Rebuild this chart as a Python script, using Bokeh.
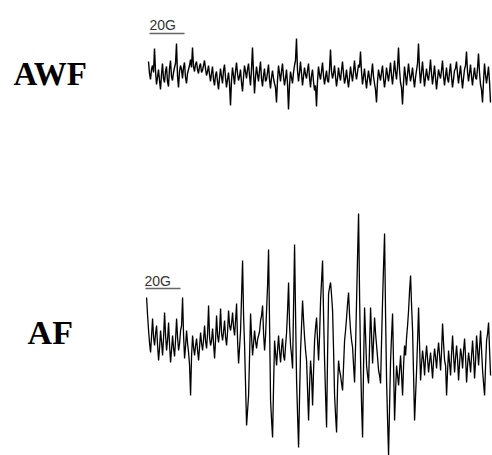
from bokeh.plotting import figure
from bokeh.models import Range1d
from bokeh.core.properties import value
from bokeh.embed import file_html
from bokeh.resources import INLINE
import numpy as np

# ---- data (EPR-like traces, intensity in arbitrary units) ----
awf_intensity = [
    14, 2, -4, 6, 10, 3, 27, 5, -9, -2, 6, -5, -14, 1, 12, -3, -7, 4, 9, -6,
    -11, 7, 15, -1, -5, 3, 8, 12, 32, 0, -12, 4, 10, 6, -3, 8, 13, -2, -8, 2,
    6, 10, 16, 8, 28, 9, 4, 11, 14, 6, 2, 9, 12, 3, 5, 10, 15, 7, 0, 4,
    10, 1, -6, 2, 9, -4, -10, 0, 4, -6, -14, -3, 7, -1, -8, 5, 11, -2, -12, -4,
    3, -8, -30, -5, 8, 0, -9, 4, 13, 2, -5, -1, 6, -7, -16, -2, 10, 4, -3, 6,
    12, 0, -10, 6, 28, 3, -18, -2, 9, 1, -6, 5, 14, -3, -11, 0, 7, -6, -4, 3,
    11, -4, -13, -2, 5, -3, -8, -12, -27, -5, 10, 2, -6, 4, 12, -1, -10, -3, 6, -8,
    -34, -10, 4, -2, -8, 3, 10, 15, 37, 5, -6, 3, 14, 2, -10, -1, 8, 1, -3, 5,
    12, -2, -12, 0, 6, -6, -15, -10, -31, -6, 9, 1, -4, 4, 13, 0, -9, -2, 5, -5,
    -7, 6, 26, 4, -3, 2, 10, -1, -11, -3, 8, 0, -5, 5, 14, 2, -8, -3, 6, -4,
    -12, -2, 9, 1, -6, 4, 15, 3, -4, 3, 11, 8, 24, 4, -9, -1, 7, -4, -13, -3,
    5, -3, -10, 2, 12, -1, -8, -14, -27, -6, 6, 0, -5, 3, 10, -2, -12, -4, 8, 1,
    -6, 3, 13, 0, -9, 2, 15, 4, -4, 8, 28, 6, -7, -12, -29, -8, 9, 0, -10, 1,
    12, 2, -6, 0, 8, -3, -12, -2, 5, 12, 32, 6, -8, 3, 14, 1, -11, -2, 7, -1,
    -5, 4, 16, 2, -9, 0, 10, -2, -14, -4, 6, 1, -3, 5, 15, 0, -10, -1, 8, -3,
    -7, 3, 12, -1, -12, -4, 5, 7, 14, 2, -8, 1, 10, -2, -13, -3, 6, 10, 24, 4,
    -6, 2, 11, -1, -10, 0, 8, -2, -4, 7, 22, 3, -9, -14, -27, -6, 12, 1, -8, 0,
    9, -6, -27,
]

af_intensity = [
    48, 30, 15, 2, -7, 10, 27, 8, 0, 12, 20, 0, -15, -2, 15, 3, -10, 8, 33, 10,
    -5, 6, 23, 0, -17, -4, 10, -3, -11, 6, 27, 8, -5, 2, 15, 20, 48, 10, -13, 0,
    15, 2, -7, -20, -50, -10, 10, -2, -10, 0, 7, -5, -15, -1, 13, 2, -5, 6, 20, 4,
    -3, 12, 40, 8, 0, 5, 17, 2, -13, 6, 30, 10, 3, 15, 37, 12, 5, 14, 25, 8,
    0, 14, 35, 20, 15, 22, 33, 18, 10, 25, 42, 5, -18, -2, 15, 50, 85, 30, 0, -40,
    -80, -65, -50, -10, 32, 8, -10, 2, 15, 4, -3, 6, 10, 14, 25, 30, 40, 12, -5, 10,
    35, 60, 96, 20, -55, -75, -92, -40, 5, -8, -20, -4, 10, -6, -17, -2, 7, -10, -15, 0,
    13, 35, 63, 20, 0, -10, -23, 40, 101, 30, -35, -70, -102, -50, -5, 20, 45, 25, 8, -5,
    -15, -45, -75, -40, -15, -30, -60, -25, 5, 18, 28, 5, -15, 10, 45, 65, 85, 30, -15, -50,
    -82, -10, 52, 58, 63, 50, 35, -5, -50, -70, -87, -40, -15, -25, -30, -38, -45, -20, 5, 15,
    28, 42, 53, 30, 15, 5, -2, -20, -37, 0, 45, 90, 132, 50, -15, -60, -92, -20, 38, 10,
    -20, -30, -38, 0, 38, 10, -18, 5, 28, 12, 0, -12, -25, -30, -38, 5, 45, 80, 112, 30,
    -35, -75, -110, -60, -15, 10, 32, -20, -75, -45, -20, -30, -40, -25, -10, -30, -50, -20, 0, -10,
    8, 20, 35, 55, 70, 40, 15, -30, -75, -50, -25, 5, 38, 0, -35, -18, -5, -15, -30, -12,
    0, -14, -27, -16, -7, -20, -33, -15, -3, -12, -23, -8, 3, -10, -25, -5, 22, 2, -15, -20,
    -50, -25, -5, -18, -30, -8, 10, -10, -27, -12, 0, -14, -35, -18, -3, -10, -23, -5, 7, -12,
    -37, -20, -7, -16, -27, -10, 5, -12, -33, -15, 10, -4, -20, -2, 15, -5, -25, -38, -50, -20,
    5, 12, 23, -5, -30,
]

labels = ["AWF", "AF"]
scale_bar_gauss = 20
scale_bar_label = "20G"

# ---- field sweep (Gauss) ----
STEP_G = 1 / 1.75
awf_field = 80.0 + STEP_G * np.arange(len(awf_intensity))
af_field = 78.9 + STEP_G * np.arange(len(af_intensity))

AWF_OFFSET = 0
AF_OFFSET = -270

p = figure(width=492, height=455, output_backend="svg", toolbar_location=None,
           x_range=Range1d(-8 / 1.75, 484 / 1.75), y_range=Range1d(-380, 75),
           min_border=0)
p.axis.visible = False
p.grid.visible = False
p.outline_line_color = None
p.background_fill_color = "white"

p.line(awf_field, np.array(awf_intensity) + AWF_OFFSET, line_color="black", line_width=1.4)
p.line(af_field, np.array(af_intensity) + AF_OFFSET, line_color="black", line_width=1.3)

# sample labels
p.text(x=[2.9], y=[2], text=[labels[0]], text_font=value("Liberation Serif"),
       text_font_style="bold", text_font_size="33px", text_baseline="alphabetic",
       text_color="black")
p.text(x=[10.9], y=[-257], text=[labels[1]], text_font=value("Liberation Serif"),
       text_font_style="bold", text_font_size="34px", text_baseline="alphabetic",
       text_color="black")

# scale bars
p.segment(x0=[80.6], y0=[42], x1=[80.6 + scale_bar_gauss], y1=[42],
          line_color="#666666", line_width=1.5)
p.text(x=[80.6], y=[51], text=[scale_bar_label], text_font=value("Liberation Sans"),
       text_font_size="14px", text_baseline="alphabetic", text_color="#333333")
p.segment(x0=[78.3], y0=[-213], x1=[78.3 + scale_bar_gauss], y1=[-213],
          line_color="#666666", line_width=1.5)
p.text(x=[77.7], y=[-205], text=[scale_bar_label], text_font=value("Liberation Sans"),
       text_font_size="14px", text_baseline="alphabetic", text_color="#333333")

open("out.html", "w").write(file_html(p, INLINE))
